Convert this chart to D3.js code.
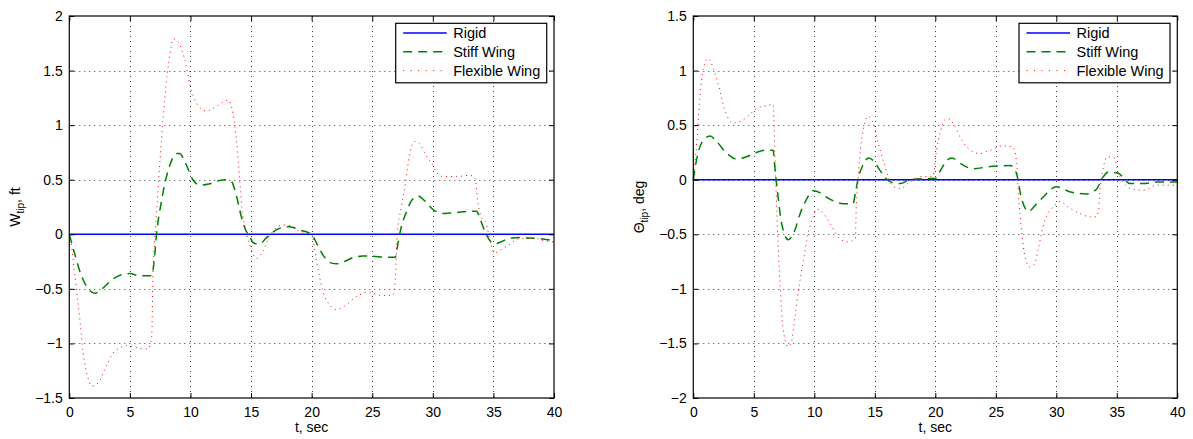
<!DOCTYPE html>
<html>
<head>
<meta charset="utf-8">
<script src="https://cdn.jsdelivr.net/npm/d3@7"></script>
<style>
  html, body { margin: 0; padding: 0; background: #fff; }
  svg { display: block; }
  text { font-family: "Liberation Sans", Arial, Helvetica, sans-serif; fill: #000; }
</style>
</head>
<body>
<svg id="chart" width="1193" height="439"></svg>
<script>
// Wing-tip response histories (time in seconds)
const seriesNames = ["Rigid", "Stiff Wing", "Flexible Wing"];
const xTicks = [0, 5, 10, 15, 20, 25, 30, 35, 40];
const wTicks = [-1.5, -1, -0.5, 0, 0.5, 1, 1.5, 2];
const thetaTicks = [-2, -1.5, -1, -0.5, 0, 0.5, 1, 1.5];

// Tip deflection W_tip, ft
const wRigid = [[0, 0], [40, 0]];
const wStiff = [[0,0],[0.5,-0.2],[1.0,-0.38],[1.5,-0.49],[2.1,-0.54],[2.7,-0.5],[3.5,-0.42],[4.3,-0.37],[5.0,-0.36],[5.8,-0.38],[6.8,-0.38],[7.0,-0.25],[7.2,0],[7.6,0.3],[8.2,0.6],[8.9,0.74],[9.1,0.74],[9.6,0.65],[10.2,0.5],[10.8,0.45],[11.5,0.46],[12.3,0.49],[13.0,0.5],[13.4,0.48],[13.8,0.35],[14.2,0.16],[14.6,0.03],[14.8,0],[15.2,-0.08],[15.7,-0.09],[16.2,-0.04],[16.8,0.02],[17.5,0.06],[18.2,0.07],[19,0.04],[20,0.0],[20.4,-0.08],[21.0,-0.2],[21.5,-0.26],[22.0,-0.27],[22.7,-0.25],[23.5,-0.21],[24.2,-0.2],[25,-0.2],[26,-0.21],[26.9,-0.21],[27.1,-0.1],[27.3,0.02],[27.8,0.2],[28.4,0.33],[28.8,0.35],[29.3,0.31],[30.1,0.22],[31.0,0.19],[32,0.2],[33,0.21],[33.6,0.21],[33.9,0.14],[34.4,0],[34.8,-0.07],[35.1,-0.09],[35.6,-0.07],[36.3,-0.04],[37.2,-0.03],[38.0,-0.035],[38.8,-0.04],[39.5,-0.05],[40,-0.06]];
const wFlexible = [[0,0],[0.2,-0.12],[0.47,-0.39],[0.88,-0.79],[1.15,-1.09],[1.5,-1.3],[1.85,-1.39],[2.4,-1.36],[3.0,-1.22],[3.6,-1.09],[4.2,-1.04],[4.7,-1.02],[5.3,-1.03],[6.0,-1.05],[6.5,-1.05],[6.8,-0.94],[6.9,-0.39],[7.05,-0.05],[7.2,0.2],[7.5,0.7],[7.75,1.08],[8.2,1.57],[8.6,1.79],[9.0,1.76],[9.5,1.61],[10.0,1.35],[10.5,1.2],[11.3,1.13],[12.4,1.19],[13.1,1.23],[13.5,1.11],[13.8,0.86],[14.1,0.44],[14.3,0.19],[14.5,0.07],[14.85,-0.08],[15.45,-0.22],[16.0,-0.15],[16.5,-0.02],[17.0,0.05],[17.6,0.085],[18.2,0.08],[19.0,0.03],[20.0,0],[20.4,-0.24],[20.9,-0.51],[21.5,-0.65],[22.05,-0.69],[22.7,-0.66],[23.7,-0.57],[24.8,-0.53],[25.6,-0.56],[26.7,-0.56],[26.9,-0.42],[27.05,-0.02],[27.4,0.25],[27.7,0.44],[28.1,0.74],[28.5,0.85],[28.9,0.83],[29.5,0.71],[29.9,0.65],[30.3,0.57],[30.8,0.53],[31.95,0.53],[33.05,0.54],[33.5,0.51],[33.7,0.31],[34.0,0.16],[34.4,0.1],[34.7,-0.05],[35.1,-0.17],[35.5,-0.15],[36.1,-0.11],[37.2,-0.04],[38.5,-0.04],[39.2,-0.06],[40,-0.07]];

// Tip twist Theta_tip, deg
const thetaRigid = [[0, 0], [40, 0]];
const thetaStiff = [[0,0],[0.3,0.2],[0.7,0.34],[1.38,0.4],[2.0,0.34],[2.7,0.25],[3.6,0.19],[4.4,0.21],[5.2,0.25],[6.0,0.27],[6.6,0.27],[6.75,0.1],[7.0,-0.15],[7.3,-0.4],[7.85,-0.55],[8.4,-0.46],[8.8,-0.32],[9.4,-0.17],[9.9,-0.1],[10.5,-0.12],[11.0,-0.16],[11.6,-0.195],[12.4,-0.22],[13.2,-0.22],[13.4,-0.12],[13.6,0],[14.0,0.13],[14.5,0.2],[15.0,0.16],[15.4,0.09],[16.3,-0.02],[17.1,-0.035],[17.9,0],[19.0,0.01],[20.0,0.01],[20.4,0.08],[20.9,0.17],[21.35,0.2],[22.2,0.14],[23.1,0.1],[24.5,0.12],[26.2,0.13],[26.7,0.06],[27.1,-0.16],[27.7,-0.29],[28.3,-0.23],[28.9,-0.16],[30.0,-0.065],[31.1,-0.11],[32.5,-0.13],[33.3,-0.09],[33.9,0.03],[34.3,0.07],[35.1,0.06],[36.1,-0.035],[37.2,-0.035],[38.3,-0.02],[40,-0.02]];
const thetaFlexible = [[0,0],[0.28,0.33],[0.55,0.76],[0.83,1.02],[1.24,1.11],[1.65,1.02],[2.07,0.87],[2.6,0.64],[3.3,0.52],[4.4,0.57],[5.2,0.65],[6.1,0.68],[6.6,0.69],[6.75,0.2],[6.9,-0.28],[7.0,-0.58],[7.2,-1.01],[7.4,-1.35],[7.85,-1.53],[8.1,-1.49],[8.4,-1.26],[8.7,-1.01],[9.1,-0.74],[9.5,-0.49],[9.9,-0.34],[10.2,-0.27],[10.5,-0.28],[11.3,-0.4],[12.1,-0.54],[12.8,-0.57],[13.4,-0.54],[13.45,-0.31],[13.6,-0.03],[13.9,0.36],[14.45,0.58],[14.9,0.51],[15.3,0.33],[15.85,0.12],[16.5,-0.06],[17.1,-0.08],[17.9,-0.02],[19.0,0.03],[19.8,0.03],[20.1,0.27],[20.4,0.43],[20.8,0.55],[21.1,0.56],[21.6,0.49],[22.2,0.36],[22.9,0.27],[23.7,0.24],[24.5,0.27],[25.6,0.31],[26.4,0.30],[26.7,0.18],[26.9,-0.19],[27.0,-0.31],[27.15,-0.49],[27.4,-0.7],[27.8,-0.8],[28.2,-0.77],[28.5,-0.64],[28.9,-0.43],[29.3,-0.31],[29.75,-0.25],[30.3,-0.2],[31.1,-0.26],[31.95,-0.31],[32.8,-0.34],[33.3,-0.34],[33.5,-0.28],[33.55,-0.19],[33.9,0.12],[34.2,0.21],[34.8,0.2],[35.1,0.07],[35.5,-0.02],[36.4,-0.09],[37.2,-0.095],[38.3,-0.05],[39.7,-0.05],[40,-0.05]];

const styles = [
  { color: "#0000ff", width: 1.5, dash: null, legendDash: null },
  { color: "#008000", width: 1.5, dash: "9,6", legendDash: "9,6" },
  { color: "#ff0000", width: 1, dash: "1,4", legendDash: "1,6.5" }
];

const panels = [
  { left: 69.3, right: 554, yDomain: [-1.5, 2], yTicks: wTicks,
    series: [wRigid, wStiff, wFlexible], yLabel: ["W", "tip", ", ft"], yLabelX: 19.5 },
  { left: 693.3, right: 1177.3, yDomain: [-2, 1.5], yTicks: thetaTicks,
    series: [thetaRigid, thetaStiff, thetaFlexible], yLabel: ["\u0398", "tip", ", deg"], yLabelX: 643.5 }
];

const plotTop = 16, plotBottom = 398;
const svg = d3.select("#chart");
const fmt = d => d3.format("")(d).replace("-", "\u2212");

panels.forEach((p, pi) => {
  const x = d3.scaleLinear().domain([0, 40]).range([p.left, p.right]);
  const y = d3.scaleLinear().domain(p.yDomain).range([plotBottom, plotTop]);
  const g = svg.append("g").attr("class", "panel-" + pi);

  // dotted grid
  const grid = g.append("g").attr("stroke", "#000").attr("stroke-width", 1)
    .attr("stroke-dasharray", "1,4").attr("opacity", 0.75);
  xTicks.slice(1, -1).forEach(t => {
    grid.append("line").attr("x1", Math.round(x(t)) + 0.5).attr("x2", Math.round(x(t)) + 0.5)
      .attr("y1", plotTop).attr("y2", plotBottom);
  });
  p.yTicks.slice(1, -1).forEach(v => {
    grid.append("line").attr("y1", Math.round(y(v)) + 0.5).attr("y2", Math.round(y(v)) + 0.5)
      .attr("x1", p.left).attr("x2", p.right);
  });

  // series
  const line = d3.line().x(d => x(d[0])).y(d => y(d[1])).curve(d3.curveMonotoneX);
  g.append("g").selectAll("path")
    .data(p.series).join("path")
    .attr("d", line)
    .attr("fill", "none")
    .attr("stroke", (d, i) => styles[i].color)
    .attr("stroke-width", (d, i) => styles[i].width)
    .attr("stroke-dasharray", (d, i) => styles[i].dash);

  // axes with inward ticks on all four sides
  const axB = d3.axisBottom(x).tickValues(xTicks).tickSizeInner(-5).tickSizeOuter(0).tickPadding(9).tickFormat(fmt);
  const axT = d3.axisTop(x).tickValues(xTicks).tickSizeInner(-5).tickSizeOuter(0).tickFormat("");
  const axL = d3.axisLeft(y).tickValues(p.yTicks).tickSizeInner(-5).tickSizeOuter(0).tickPadding(6.5).tickFormat(fmt);
  const axR = d3.axisRight(y).tickValues(p.yTicks).tickSizeInner(-5).tickSizeOuter(0).tickFormat("");
  [[axB, `translate(0,${plotBottom})`], [axT, `translate(0,${plotTop})`],
   [axL, `translate(${p.left},0)`], [axR, `translate(${p.right},0)`]].forEach(([ax, tr]) => {
    const a = g.append("g").attr("transform", tr).call(ax);
    a.select(".domain").remove();
    a.selectAll("line").attr("stroke", "#000");
    a.selectAll("text").attr("font-size", 14).attr("font-family", "Liberation Sans, Arial, sans-serif").attr("fill", "#000");
  });

  // frame
  g.append("rect").attr("x", p.left).attr("y", plotTop)
    .attr("width", p.right - p.left).attr("height", plotBottom - plotTop)
    .attr("fill", "none").attr("stroke", "#000").attr("stroke-width", 1.2);

  // x label
  g.append("text").attr("x", (p.left + p.right) / 2).attr("y", 431.5)
    .attr("text-anchor", "middle").attr("font-size", 14).text("t, sec");

  // y label with subscript
  const yl = g.append("text")
    .attr("transform", `translate(${p.yLabelX},${(plotTop + plotBottom) / 2}) rotate(-90)`)
    .attr("text-anchor", "middle").attr("font-size", 14);
  yl.append("tspan").text(p.yLabel[0]);
  yl.append("tspan").attr("dy", 4).attr("font-size", 10).text(p.yLabel[1]);
  yl.append("tspan").attr("dy", -4).text(p.yLabel[2]);

  // legend
  const lw = 151, lh = 59.5;
  const lx = p.right - 7.3 - lw, ly = 23.3;
  const lg = g.append("g").attr("transform", `translate(${lx},${ly})`);
  lg.append("rect").attr("width", lw).attr("height", lh)
    .attr("fill", "#fff").attr("stroke", "#000").attr("stroke-width", 1.2);
  seriesNames.forEach((name, i) => {
    const cy = 9.7 + i * 18.8;
    lg.append("line").attr("x1", 7.5).attr("x2", 51).attr("y1", cy).attr("y2", cy)
      .attr("stroke", styles[i].color).attr("stroke-width", styles[i].width)
      .attr("stroke-dasharray", styles[i].legendDash);
    lg.append("text").attr("x", 57.5).attr("y", cy + 5.3).attr("font-size", 14.5).text(name);
  });
});
</script>
</body>
</html>
